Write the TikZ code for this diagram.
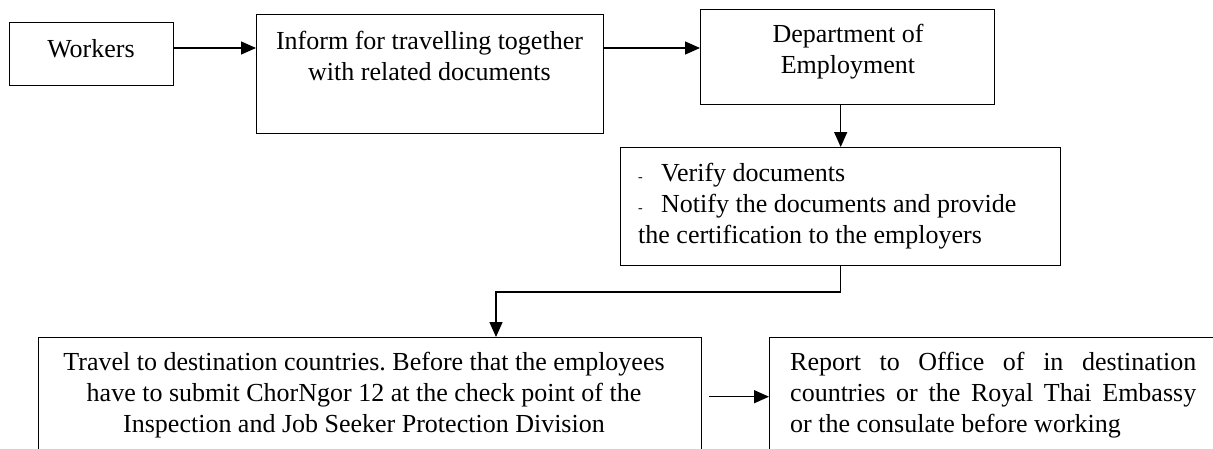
\documentclass[tikz,border=0pt]{standalone}
\usepackage{fontspec}
\setmainfont{Liberation Serif}
\usetikzlibrary{arrows.meta}
\newcommand{\boxfont}{\fontsize{26pt}{31pt}\selectfont\frenchspacing\hyphenpenalty=10000\relax}
\newcommand{\dashitem}{\makebox[23pt][l]{\fontsize{14pt}{14pt}\selectfont -}}
\tikzset{
  box/.style={draw, line width=1.4pt, inner sep=0pt, anchor=north west},
  txt/.style={inner sep=0pt, align=center, anchor=base, font=\boxfont},
  arr/.style={line width=1.4pt, -{Triangle[length=15pt,width=13pt]}}
}

\begin{document}
\begin{tikzpicture}[x=1pt,y=-1pt]
        \useasboundingbox (0,0) rectangle (1213,448);
        \clip (0,0) rectangle (1213,448);
        % boxes, placed by their top left corner
        \node[box, minimum width=164pt, minimum height=63pt] (workers) at (9,22) {};
        \node[box, minimum width=347pt, minimum height=119pt] (inform) at (256,14) {};
        \node[box, minimum width=294pt, minimum height=95pt] (dept) at (700,9) {};
        \node[box, minimum width=440pt, minimum height=118pt] (verify) at (620,147) {};
        \node[box, minimum width=663pt, minimum height=118pt] (travel) at (38,337) {};
        \node[box, minimum width=470pt, minimum height=118pt] (report) at (769,337) {};
        % texts, placed at the baseline of their last line
        \node[txt] (workers-txt) at (91,57) {Workers};
        \node[txt] (inform-txt) at (429.5,80) {Inform for travelling together\\with related documents};
        \node[txt] (dept-txt) at (848,73) {Department of\\Employment};
        \node[txt, anchor=base west, align=left] (verify-txt) at (638,243)
          {\dashitem Verify documents\\\dashitem Notify the documents and provide\\the certification to the employers};
        \node[txt] (travel-txt) at (364,432)
          {Travel to destination countries. Before that the employees\\have to submit ChorNgor 12 at the check point of the\\Inspection and Job Seeker Protection Division};
        % justified text: placed at its first line
        \node[txt, anchor=base west, text width=406pt, align=justify] (report-txt) at (790,370)
          {Report to Office of in destination\linebreak countries or the Royal Thai Embassy\linebreak or the consulate before working};
        % connectors
        \coordinate (lvl) at (0,48); % height of the top arrows
        \coordinate (bend) at (496,292);
        \draw[arr] (workers.east |- lvl) -- (inform.west |- lvl);
        \draw[arr] (inform.east |- lvl) -- (dept.west |- lvl);
        \draw[arr] (dept.south -| verify.north) -- (verify.north);
        \draw[arr] (verify.south) |- (bend) -- (bend |- travel.north);
        \draw[arr] ([xshift=7pt]travel.east) -- (report.west);
\end{tikzpicture}
\end{document}
